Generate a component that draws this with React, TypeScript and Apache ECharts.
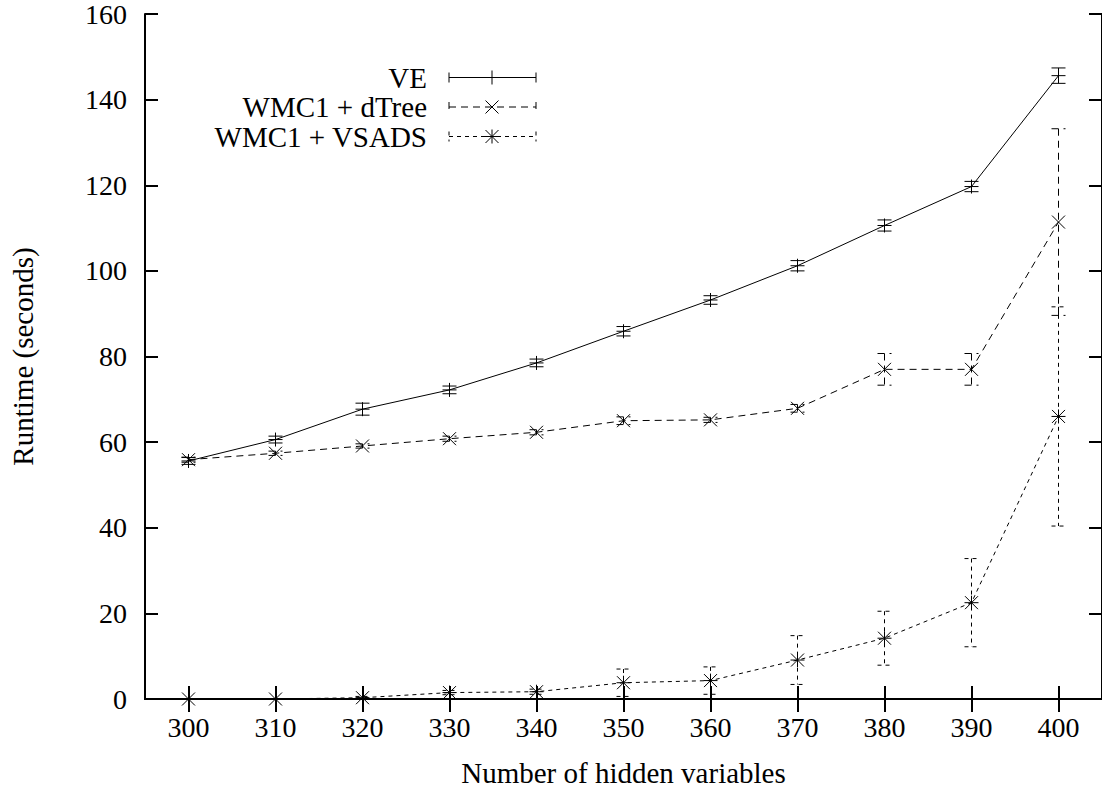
import React, { useEffect, useRef } from "react";
import * as echarts from "echarts";

const categories = ["300", "310", "320", "330", "340", "350", "360", "370", "380", "390", "400"];
const veValues = [55.6, 60.6, 67.7, 72.2, 78.5, 85.9, 93.2, 101.2, 110.6, 119.7, 145.6];
const veErrors = [0.8, 0.8, 1.4, 0.9, 0.9, 1.1, 1.0, 1.2, 1.3, 1.2, 1.8];
const dtreeValues = [55.9, 57.4, 59.1, 60.8, 62.3, 65.0, 65.2, 67.9, 77.0, 77.0, 111.4];
const dtreeErrors = [0.6, 0.5, 0.5, 0.6, 0.6, 0.9, 0.6, 0.9, 3.7, 3.7, 21.8];
const vsadsValues = [0, 0, 0.3, 1.5, 1.7, 3.8, 4.3, 9.1, 14.2, 22.5, 66.0];
const vsadsErrors = [0, 0, 0.3, 0.5, 0.6, 3.2, 3.2, 5.7, 6.3, 10.3, 25.6];
const yTicks = { min: 0, max: 160, interval: 20 };
const seriesNames = ["VE", "WMC1 + dTree", "WMC1 + VSADS"];

const FONT = "Liberation Serif, serif";
const DASHES: (number[] | null)[] = [null, [7, 5], [4, 4]];
const MARKERS = ["plus", "cross", "star"];

function markerLines(cx: number, cy: number, kind: string, style: any) {
  const out: any[] = [];
  const p = 7;
  const d = 6.5;
  if (kind === "plus" || kind === "star") {
    out.push({ type: "line", shape: { x1: cx - p, y1: cy, x2: cx + p, y2: cy }, style });
    out.push({ type: "line", shape: { x1: cx, y1: cy - p, x2: cx, y2: cy + p }, style });
  }
  if (kind === "cross" || kind === "star") {
    out.push({ type: "line", shape: { x1: cx - d, y1: cy - d, x2: cx + d, y2: cy + d }, style });
    out.push({ type: "line", shape: { x1: cx - d, y1: cy + d, x2: cx + d, y2: cy - d }, style });
  }
  return out;
}

function errorSeries(idx: number, values: number[], errors: number[]) {
  const dash = DASHES[idx];
  return {
    type: "custom",
    name: seriesNames[idx] + " err",
    xAxisIndex: 0,
    yAxisIndex: 0,
    clip: false,
    z: 3,
    data: values.map((v, i) => [i, v, errors[i]]),
    renderItem: (params: any, api: any) => {
      const i = api.value(0);
      const v = api.value(1);
      const e = api.value(2);
      const c = api.coord([i, v]);
      const t = api.coord([i, v + e]);
      const b = api.coord([i, v - e]);
      const lineStyle: any = { stroke: "#000", lineWidth: 1, fill: null };
      if (dash) lineStyle.lineDash = dash;
      const solid: any = { stroke: "#000", lineWidth: 1, fill: null };
      const children: any[] = [];
      if (e > 0) {
        children.push({ type: "line", shape: { x1: t[0], y1: t[1], x2: b[0], y2: b[1] }, style: lineStyle });
        children.push({ type: "line", shape: { x1: t[0] - 7, y1: t[1], x2: t[0] + 7, y2: t[1] }, style: lineStyle });
        children.push({ type: "line", shape: { x1: b[0] - 7, y1: b[1], x2: b[0] + 7, y2: b[1] }, style: lineStyle });
      }
      children.push(...markerLines(c[0], c[1], MARKERS[idx], solid));
      return { type: "group", children };
    },
  };
}

function lineSeries(idx: number, values: number[]) {
  const dash = DASHES[idx];
  return {
    type: "line",
    name: seriesNames[idx],
    xAxisIndex: 0,
    yAxisIndex: 0,
    data: values,
    showSymbol: false,
    symbol: "none",
    z: 2,
    lineStyle: { color: "#000", width: 1, type: dash ? dash : "solid" },
  };
}

function legendGraphic() {
  const rows = [77.5, 107, 136.5];
  const textRight = 427;
  const x1 = 449;
  const x2 = 536;
  const mx = 492;
  const els: any[] = [];
  rows.forEach((y, idx) => {
    const dash = DASHES[idx];
    const ls: any = { stroke: "#000", lineWidth: 1 };
    if (dash) ls.lineDash = dash;
    els.push({
      type: "text",
      x: textRight,
      y,
      style: {
        text: seriesNames[idx],
        align: "right",
        verticalAlign: "middle",
        fontFamily: FONT,
        fontSize: 29,
        lineHeight: 29,
        fill: "#000",
      },
    });
    els.push({ type: "line", shape: { x1, y1: y, x2, y2: y }, style: ls });
    els.push({ type: "line", shape: { x1, y1: y - 5, x2: x1, y2: y + 5 }, style: ls });
    els.push({ type: "line", shape: { x1: x2, y1: y - 5, x2, y2: y + 5 }, style: ls });
    markerLines(mx, y, MARKERS[idx], { stroke: "#000", lineWidth: 1 }).forEach((m) => els.push(m));
  });
  return els;
}

export default function App() {
  const ref = useRef<HTMLDivElement>(null);
  useEffect(() => {
    if (!ref.current) return;
    const chart = echarts.init(ref.current, null, { renderer: "svg" });
    const axisLine = { show: true, lineStyle: { color: "#000", width: 2 } };
    const axisTick = { show: true, inside: true, length: 13, alignWithLabel: true, lineStyle: { color: "#000", width: 2 } };
    const labelStyle = { color: "#000", fontFamily: FONT, fontSize: 28 };
    chart.setOption({
      animation: false,
      backgroundColor: "#fff",
      grid: { left: 143.5, top: 12.7, right: -2, bottom: 90.3, containLabel: false },
      xAxis: [
        {
          type: "category",
          data: categories,
          boundaryGap: true,
          position: "bottom",
          axisLine,
          axisTick,
          axisLabel: { ...labelStyle, margin: 14 },
          splitLine: { show: false },
          name: "Number of hidden variables",
          nameLocation: "middle",
          nameGap: 59,
          nameTextStyle: { color: "#000", fontFamily: FONT, fontSize: 29 },
        },
        {
          type: "category",
          data: categories,
          boundaryGap: true,
          position: "top",
          axisLine,
          axisTick,
          axisLabel: { show: false },
          splitLine: { show: false },
        },
      ],
      yAxis: [
        {
          type: "value",
          min: yTicks.min,
          max: yTicks.max,
          interval: yTicks.interval,
          position: "left",
          axisLine,
          axisTick: { ...axisTick },
          axisLabel: { ...labelStyle, margin: 18 },
          splitLine: { show: false },
          name: "Runtime (seconds)",
          nameLocation: "middle",
          nameGap: 108,
          nameRotate: 90,
          nameTextStyle: { color: "#000", fontFamily: FONT, fontSize: 29 },
        },
        {
          type: "value",
          min: yTicks.min,
          max: yTicks.max,
          interval: yTicks.interval,
          position: "right",
          axisLine,
          axisTick: { ...axisTick },
          axisLabel: { show: false },
          splitLine: { show: false },
        },
      ],
      series: [
        lineSeries(0, veValues),
        lineSeries(1, dtreeValues),
        lineSeries(2, vsadsValues),
        errorSeries(0, veValues, veErrors),
        errorSeries(1, dtreeValues, dtreeErrors),
        errorSeries(2, vsadsValues, vsadsErrors),
      ],
      graphic: legendGraphic(),
    });
    return () => chart.dispose();
  }, []);
  return <div ref={ref} style={{ position: "absolute", left: 0, top: 0, width: 1102, height: 792 }} />;
}
